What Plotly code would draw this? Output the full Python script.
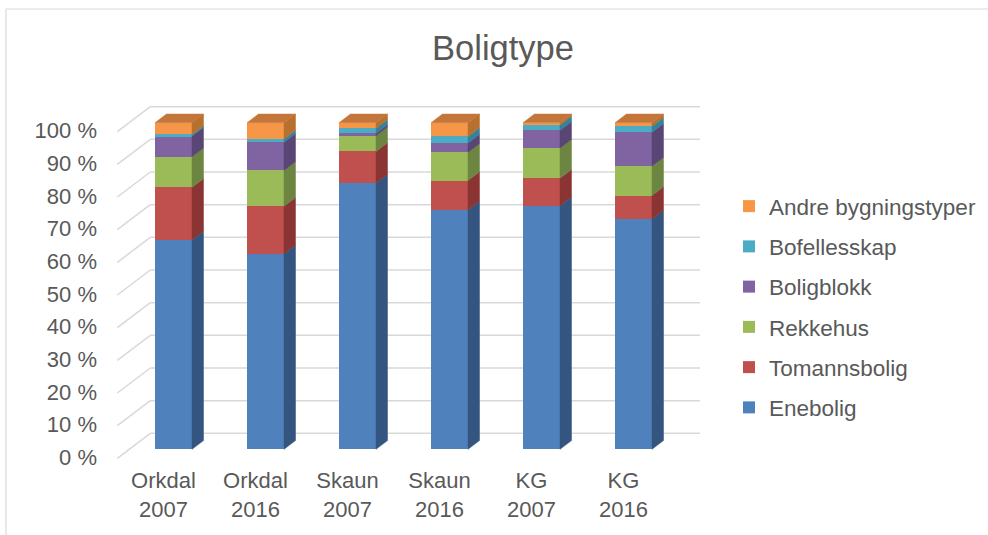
import numpy as np
import plotly.graph_objects as go

# ---------------- data ----------------
categories = ["Orkdal<br>2007", "Orkdal<br>2016", "Skaun<br>2007",
              "Skaun<br>2016", "KG<br>2007", "KG<br>2016"]
enebolig = [64.1, 59.9, 81.5, 73.3, 74.6, 70.5]
tomannsbolig = [16.1, 14.5, 9.7, 9.0, 8.4, 7.2]
rekkehus = [9.4, 11.0, 4.8, 8.6, 9.2, 9.0]
boligblokk = [6.3, 8.6, 0.8, 2.9, 5.5, 10.4]
bofellesskap = [0.5, 1.0, 1.5, 2.0, 1.6, 1.8]
andre_bygningstyper = [3.6, 5.0, 1.7, 4.2, 0.7, 1.1]
series_names = ["Enebolig", "Tomannsbolig", "Rekkehus", "Boligblokk",
                "Bofellesskap", "Andre bygningstyper"]
y_tick_values = [0, 10, 20, 30, 40, 50, 60, 70, 80, 90, 100]
y_tick_labels = ["0 %", "10 %", "20 %", "30 %", "40 %", "50 %",
                 "60 %", "70 %", "80 %", "90 %", "100 %"]

# ---------------- style ----------------
front_colors = ["#4F81BD", "#C0504D", "#9BBB59", "#8064A2", "#4BACC6", "#F79646"]
side_colors = ["#34557F", "#8A3533", "#6C8540", "#5A4675", "#33839A", "#B8702E"]
top_color = "#C4763A"
grid_color = "#D9D9D9"
text_color = "#595959"
font_family = "Arial, Liberation Sans, sans-serif"
tick_size = 22
legend_size = 22.5
title_size = 34.5

W, H = 988, 535
PL, PR, PT, PB = 105, 712, 95, 462          # plot area in pixels
X0PX, XSTEP = 173.5, 92.0                   # pixel of category 0, pixels per category
Y0PX, YSCALE = 449.3, 3.266                 # pixel of 0 %, pixels per percent
BAR_W_PX = 37.0
SIDE_DX_PX, SIDE_DY_PX = 11.5, 8.7          # bar depth projection
WALL_FRONT_X_PX, WALL_BACK_X_PX, WALL_RIGHT_X_PX = 117.3, 150.3, 700.0
WALL_BACK_UP_PX, WALL_FRONT_DOWN_PX = 16.0, 9.0


def px2x(px):
    return (px - X0PX) / XSTEP


def px2y(py):
    return (Y0PX - py) / YSCALE


x_range = [px2x(PL), px2x(PR)]
y_range = [px2y(PB), px2y(PT)]
bar_w = BAR_W_PX / XSTEP
sdx = SIDE_DX_PX / XSTEP
sdy = SIDE_DY_PX / YSCALE

series = [enebolig, tomannsbolig, rekkehus, boligblokk, bofellesskap, andre_bygningstyper]
vals = np.array(series, dtype=float)
vals = vals / vals.sum(axis=0) * 100.0       # 100 % stacked
tops = np.cumsum(vals, axis=0)
bases = tops - vals
xpos = np.arange(len(categories))

fig = go.Figure()

# front faces (the library's stacked bars)
for k, name in enumerate(series_names):
    fig.add_trace(go.Bar(
        x=xpos, y=series[k], name=name, width=bar_w,
        marker=dict(color=front_colors[k], line=dict(width=0)),
        legendgroup=name, legendrank=100 - k, hoverinfo="name+y",
    ))

# side faces
for k, name in enumerate(series_names):
    xs, ys = [], []
    for i in xpos:
        xr = i + bar_w / 2
        b, t = bases[k, i], tops[k, i]
        xs += [xr, xr + sdx, xr + sdx, xr, xr, None]
        ys += [b, b + sdy, t + sdy, t, b, None]
    fig.add_trace(go.Scatter(
        x=xs, y=ys, mode="lines", fill="toself", fillcolor=side_colors[k],
        line=dict(width=0.5, color=side_colors[k]), showlegend=False,
        hoverinfo="skip", legendgroup=name, legendrank=100 - k,
    ))

# top faces
xs, ys = [], []
for i in xpos:
    xl, xr = i - bar_w / 2, i + bar_w / 2
    t = tops[-1, i]
    xs += [xl, xl + sdx, xr + sdx, xr, xl, None]
    ys += [t, t + sdy, t + sdy, t, t, None]
fig.add_trace(go.Scatter(
    x=xs, y=ys, mode="lines", fill="toself", fillcolor=top_color,
    line=dict(width=0.5, color=top_color), showlegend=False, hoverinfo="skip",
))

# 3D walls: back wall gridlines + left wall diagonals
shapes = []
back_up = WALL_BACK_UP_PX / YSCALE
front_down = WALL_FRONT_DOWN_PX / YSCALE
for v in y_tick_values:
    shapes.append(dict(type="line", xref="x", yref="y", layer="below",
                       x0=px2x(WALL_BACK_X_PX), x1=px2x(WALL_RIGHT_X_PX),
                       y0=v + back_up, y1=v + back_up,
                       line=dict(color=grid_color, width=1.5)))
    shapes.append(dict(type="line", xref="x", yref="y", layer="below",
                       x0=px2x(WALL_FRONT_X_PX), x1=px2x(WALL_BACK_X_PX),
                       y0=v - front_down, y1=v + back_up,
                       line=dict(color=grid_color, width=1.5)))

# chart border (left and top edges visible in the frame)
def paper_x(px):
    return (px - PL) / (PR - PL)


def paper_y(py):
    return (PB - py) / (PB - PT)


shapes.append(dict(type="line", xref="paper", yref="paper",
                   x0=paper_x(6), x1=paper_x(6), y0=paper_y(9), y1=paper_y(H + 5),
                   line=dict(color=grid_color, width=1.2)))
shapes.append(dict(type="line", xref="paper", yref="paper",
                   x0=paper_x(6), x1=paper_x(W + 5), y0=paper_y(9), y1=paper_y(9),
                   line=dict(color=grid_color, width=1.2)))

fig.update_layout(
    width=W, height=H,
    margin=dict(l=PL, r=W - PR, t=PT, b=H - PB, pad=0, autoexpand=False),
    paper_bgcolor="white", plot_bgcolor="white",
    barmode="stack", barnorm="percent",
    font=dict(family=font_family, color=text_color, size=tick_size),
    title=dict(text="Boligtype", x=503 / W, xanchor="center",
               y=1 - 48 / H, yanchor="middle", yref="container",
               font=dict(size=title_size, color=text_color, family=font_family)),
    xaxis=dict(range=x_range, tickvals=list(xpos), ticktext=categories,
               showgrid=False, zeroline=False, showline=False, ticks="",
               automargin=False,
               ticklabelshift=-10, ticklabelstandoff=3,
               tickfont=dict(size=tick_size, color=text_color)),
    yaxis=dict(range=y_range, tickvals=y_tick_values, ticktext=y_tick_labels,
               showgrid=False, zeroline=False, showline=False, ticks="",
               automargin=False,
               ticklabelshift=8, ticklabelstandoff=7,
               tickfont=dict(size=tick_size, color=text_color)),
    legend=dict(x=(769 - 40) / W, xref="container", xanchor="left",
                y=1 - 185 / H, yref="container", yanchor="top",
                traceorder="grouped", tracegroupgap=8,
                font=dict(size=legend_size, color=text_color, family=font_family),
                bgcolor="rgba(0,0,0,0)"),
    shapes=shapes,
    showlegend=True,
)

fig.write_html("out.html")
